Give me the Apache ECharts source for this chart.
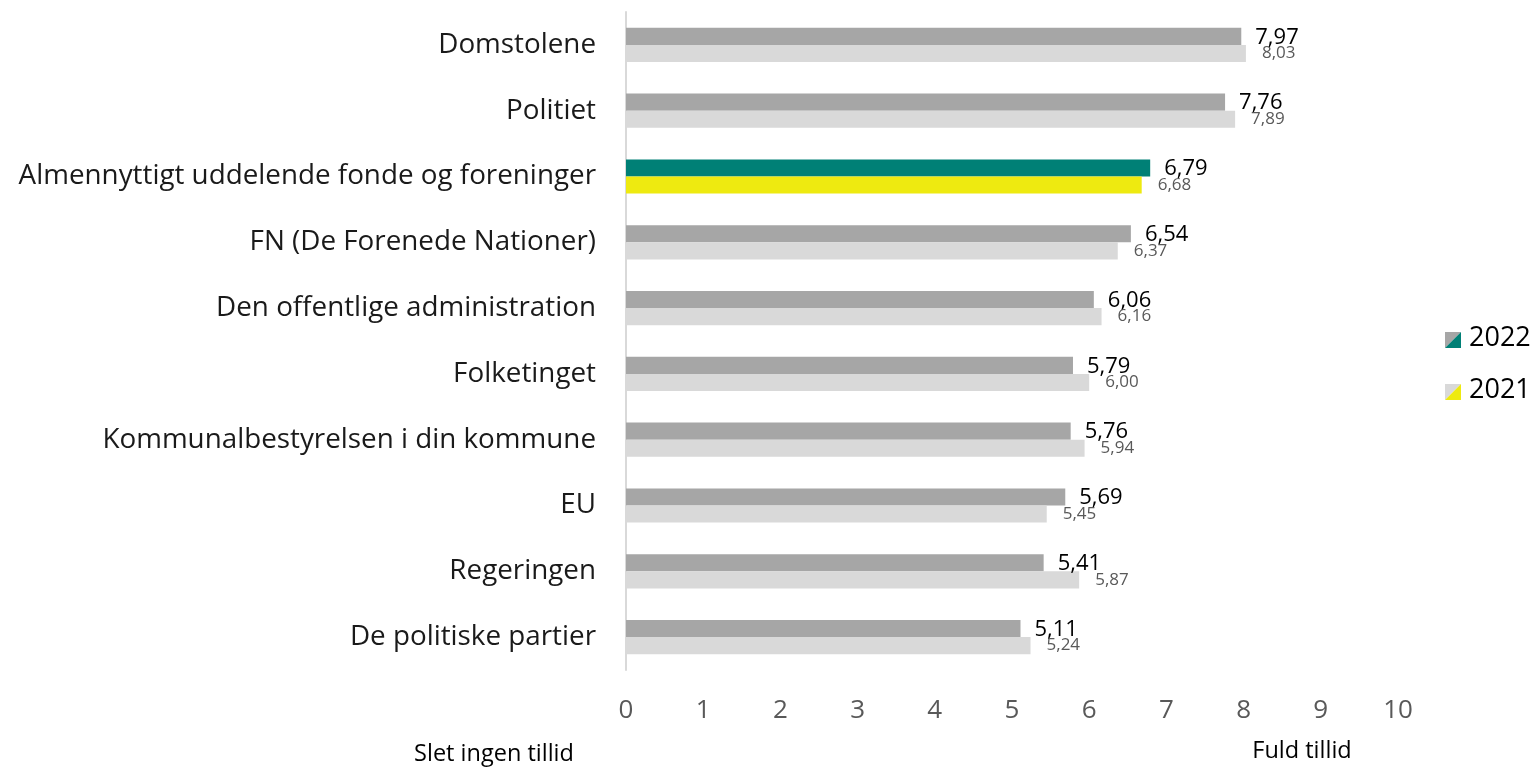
<!DOCTYPE html>
<html>
<head>
<meta charset="utf-8">
<script src="https://cdn.jsdelivr.net/npm/echarts@6/dist/echarts.min.js"></script>
<style>
  html, body { margin: 0; padding: 0; background: #fff; }
  #chart { width: 1537px; height: 767px; }
</style>
</head>
<body>
<div id="chart"></div>
<script>
  var categories = ['Domstolene', 'Politiet', 'Almennyttigt uddelende fonde og foreninger',
    'FN (De Forenede Nationer)', 'Den offentlige administration', 'Folketinget',
    'Kommunalbestyrelsen i din kommune', 'EU', 'Regeringen', 'De politiske partier'];
  var values2022 = [7.97, 7.76, 6.79, 6.54, 6.06, 5.79, 5.76, 5.69, 5.41, 5.11];
  var values2021 = [8.03, 7.89, 6.68, 6.37, 6.16, 6.00, 5.94, 5.45, 5.87, 5.24];
  var highlightIndex = 2;
  var xTicks = [0, 10, 1];

  var font = '"Open Sans", sans-serif';
  var fmt = function (p) { return p.value.toFixed(2).replace('.', ','); };

  function buildData(vals, base, hi) {
    return vals.map(function (v, i) {
      return { value: v, itemStyle: { color: i === highlightIndex ? hi : base } };
    });
  }

  function legendIcon(y, c1, c2) {
    return [
      { type: 'polygon', shape: { points: [[1445, y], [1461, y], [1445, y + 16]] }, style: { fill: c1 } },
      { type: 'polygon', shape: { points: [[1461, y], [1461, y + 16], [1445, y + 16]] }, style: { fill: c2 } }
    ];
  }

  function note(text, x, y, size) {
    return { type: 'text', x: x, y: y, style: { text: text, fontSize: size, fontFamily: font,
      fill: '#000', align: 'center', verticalAlign: 'middle' } };
  }

  var chart = echarts.init(document.getElementById('chart'));
  chart.setOption({
    animation: false,
    textStyle: { fontFamily: font },
    grid: { left: 626, right: 139, top: 12, bottom: 97 },
    xAxis: {
      type: 'value', min: xTicks[0], max: xTicks[1], interval: xTicks[2],
      axisLine: { show: false }, axisTick: { show: false }, splitLine: { show: false },
      axisLabel: { fontSize: 26, color: '#595959', margin: 28, fontFamily: font }
    },
    yAxis: {
      type: 'category', data: categories, inverse: true,
      axisLine: { show: true, lineStyle: { color: '#d9d9d9', width: 2 } },
      axisTick: { show: false },
      axisLabel: { fontSize: 27.8, color: '#1a1a1a', margin: 30, fontFamily: font }
    },
    series: [
      {
        name: '2022', type: 'bar', barGap: '0%', barCategoryGap: '48%',
        data: buildData(values2022, '#a6a6a6', '#008076'),
        label: { show: true, position: 'right', distance: 14, fontSize: 22, color: '#000',
          offset: [0, 1], formatter: fmt, fontFamily: font }
      },
      {
        name: '2021', type: 'bar',
        data: buildData(values2021, '#d9d9d9', '#eeea10'),
        label: { show: true, position: 'right', distance: 16, fontSize: 17, color: '#595959',
          offset: [0, 0], formatter: fmt, fontFamily: font }
      }
    ],
    graphic: legendIcon(332, '#a6a6a6', '#008076').concat(legendIcon(384, '#d9d9d9', '#eeea10')).concat([
      { type: 'text', x: 1469, y: 338, style: { text: '2022', fontSize: 27, fontFamily: font,
        fill: '#000', verticalAlign: 'middle' } },
      { type: 'text', x: 1469, y: 390, style: { text: '2021', fontSize: 27, fontFamily: font,
        fill: '#000', verticalAlign: 'middle' } },
      note('Slet ingen tillid', 494, 754, 23.5),
      note('Fuld tillid', 1302, 751, 23.5)
    ])
  });
</script>
</body>
</html>
